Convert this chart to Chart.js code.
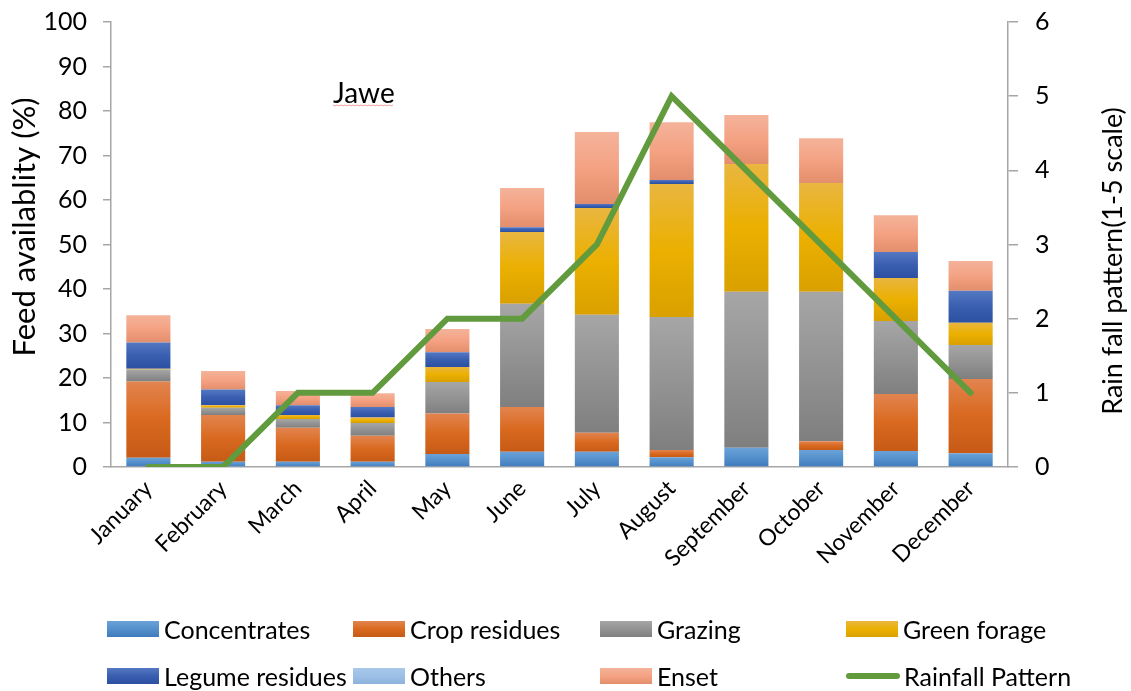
<!DOCTYPE html>
<html>
<head>
<meta charset="utf-8">
<title>Jawe feed availability</title>
<script src="https://cdn.jsdelivr.net/npm/chart.js@4/dist/chart.umd.min.js"></script>
<style>
  html, body { margin: 0; padding: 0; background: #ffffff; }
  #wrap { position: relative; width: 1131px; height: 691px; overflow: hidden; }
  #chart { position: absolute; left: 0; top: 0; }
  .legend-item { position: absolute; display: flex; align-items: center; height: 26px;
    font-family: Lato, "Open Sans", sans-serif; font-size: 25px; color: #000; white-space: nowrap; }
  .legend-item .sw { width: 52px; height: 16px; margin-right: 5px; flex: none; }
  .legend-item .ln { width: 54px; height: 6px; border-radius: 3px; margin-right: 4px; flex: none; }
</style>
</head>
<body>
<div id="wrap">
  <canvas id="chart" width="1131" height="691"></canvas>
  <div id="legend"></div>
</div>
<script>
// Months on the category axis
const months = ['January', 'February', 'March', 'April', 'May', 'June', 'July',
  'August', 'September', 'October', 'November', 'December'];

// Feed sources, % of feed available each month (stacked bars)
const concentrates   = [2.1, 1.2, 1.2, 1.2, 2.9, 3.4, 3.4, 2.2, 4.3, 3.8, 3.6, 3.1];
const cropResidues   = [17.1, 10.5, 7.6, 5.8, 9.1, 10.1, 4.3, 1.6, 0, 2.0, 12.8, 16.7];
const grazing        = [2.7, 1.6, 2.0, 2.9, 7.1, 23.2, 26.5, 29.9, 35.1, 33.6, 16.4, 7.6];
const greenForage    = [0.2, 0.6, 0.9, 1.2, 3.4, 16.1, 24.0, 29.9, 28.7, 24.4, 9.7, 5.0];
const legumeResidues = [5.9, 3.5, 2.2, 2.4, 3.3, 1.1, 0.9, 0.9, 0, 0, 5.8, 7.2];
const others         = [0, 0, 0, 0, 0, 0, 0, 0, 0, 0, 0, 0];
const enset          = [6.1, 4.2, 3.2, 3.1, 5.2, 8.8, 16.2, 13.0, 11.0, 10.1, 8.3, 6.7];

// Rainfall on a 1-5 scale (right axis)
const rainfall = [0, 0, 1, 1, 2, 2, 3, 5, 4, 3, 2, 1];

// Axis tick values
const feedTicks = [0, 10, 20, 30, 40, 50, 60, 70, 80, 90, 100];
const rainTicks = [0, 1, 2, 3, 4, 5, 6];

const FONT = 'Lato, "Open Sans", sans-serif';

// Three-stop vertical shading: light top, base middle, dark bottom
const shades = {
  concentrates:   ['#6aa2d8', '#5590cc', '#3f7bbd'],
  cropResidues:   ['#e2844f', '#d9691f', '#c65a16'],
  grazing:        ['#a6a6a6', '#939393', '#7f7f7f'],
  greenForage:    ['#e9b640', '#ebb000', '#d9a000'],
  legumeResidues: ['#5478c2', '#3a5fb0', '#2b50a2'],
  others:         ['#a9c8ea', '#9dc0e6', '#8cb2dc'],
  enset:          ['#f4b39a', '#f4a283', '#e38e6c']
};

const barSeries = [
  { label: 'Concentrates', data: concentrates, shade: shades.concentrates },
  { label: 'Crop residues', data: cropResidues, shade: shades.cropResidues },
  { label: 'Grazing', data: grazing, shade: shades.grazing },
  { label: 'Green forage', data: greenForage, shade: shades.greenForage },
  { label: 'Legume residues', data: legumeResidues, shade: shades.legumeResidues },
  { label: 'Others', data: others, shade: shades.others },
  { label: 'Enset', data: enset, shade: shades.enset }
];

// Gradient fitted to one stacked segment, computed from the value scale
function segmentFill(ctx, stops) {
  const chart = ctx.chart;
  const y = chart.scales && chart.scales.y;
  if (!chart.chartArea || !y) return stops[1];
  const i = ctx.dataIndex, d = ctx.datasetIndex;
  let base = 0;
  for (let k = 0; k < d; k++) base += barSeries[k].data[i];
  const value = barSeries[d].data[i];
  const top = y.getPixelForValue(base + value);
  const bottom = y.getPixelForValue(base);
  if (!(bottom - top > 0.5)) return stops[1];
  const g = chart.ctx.createLinearGradient(0, top, 0, bottom);
  g.addColorStop(0, stops[0]);
  g.addColorStop(0.5, stops[1]);
  g.addColorStop(1, stops[2]);
  return g;
}

const datasets = barSeries.map(s => ({
  type: 'bar',
  label: s.label,
  data: s.data,
  yAxisID: 'y',
  stack: 'feed',
  order: 1,
  borderWidth: 0,
  barPercentage: 0.59,
  categoryPercentage: 1.0,
  backgroundColor: ctx => segmentFill(ctx, s.shade)
}));

datasets.push({
  type: 'line',
  label: 'Rainfall Pattern',
  data: rainfall,
  yAxisID: 'y1',
  order: 0,
  borderColor: '#629b3e',
  borderWidth: 6,
  borderCapStyle: 'round',
  borderJoinStyle: 'miter',
  pointRadius: 0,
  tension: 0,
  fill: false
});

const AXIS_GRAY = '#a6a6a6';

// Axis titles (both read bottom-to-top) and the site name inside the plot
const annotations = {
  id: 'annotations',
  afterDraw(chart) {
    const c = chart.ctx;
    c.save();
    c.fillStyle = '#000';
    c.textAlign = 'center';
    c.textBaseline = 'middle';

    c.save();
    c.font = '31px ' + FONT;
    c.translate(25, 227);
    c.rotate(-Math.PI / 2);
    c.fillText('Feed availablity (%)', 0, 0);
    c.restore();

    c.save();
    c.font = '27px ' + FONT;
    c.translate(1113, 261);
    c.rotate(-Math.PI / 2);
    c.fillText('Rain fall pattern(1-5 scale)', 0, 0);
    c.restore();

    c.textAlign = 'left';
    c.textBaseline = 'alphabetic';
    c.font = '28px ' + FONT;
    c.fillText('Jawe', 333, 103);
    const w = c.measureText('Jawe').width;
    c.strokeStyle = 'rgba(230, 80, 80, 0.55)';
    c.lineWidth = 1;
    c.beginPath();
    for (let x = 333; x <= 333 + w; x += 2) {
      const yy = 105 + ((x - 333) % 4 === 0 ? 0 : 0.8);
      if (x === 333) c.moveTo(x, yy); else c.lineTo(x, yy);
    }
    c.stroke();
    c.restore();
  }
};

// Vertical axes: fixed box widths, no extra top/bottom reserve for tick text
function fixVertical(width) {
  return scale => {
    scale.width = width;
    scale.paddingTop = 0;
    scale.paddingBottom = 0;
  };
}

new Chart(document.getElementById('chart'), {
  data: { labels: months, datasets },
  options: {
    responsive: false,
    animation: false,
    layout: { padding: { top: 22, left: 0, right: 0, bottom: 0 } },
    plugins: {
      legend: { display: false },
      tooltip: { enabled: false },
      title: { display: false }
    },
    scales: {
      x: {
        stacked: true,
        offset: true,
        grid: { display: false, drawTicks: false },
        border: { display: true, color: AXIS_GRAY, width: 1.5 },
        ticks: {
          color: '#000',
          font: { family: FONT, size: 23 },
          minRotation: 45,
          maxRotation: 45,
          padding: 8,
          autoSkip: false
        },
        afterFit(scale) {
          scale.height = 224;
          scale.paddingLeft = 0;
          scale.paddingRight = 0;
        }
      },
      y: {
        position: 'left',
        stacked: true,
        min: 0,
        max: 100,
        afterBuildTicks(scale) { scale.ticks = feedTicks.map(v => ({ value: v })); },
        grid: { drawOnChartArea: false, drawTicks: true, tickLength: 8, color: AXIS_GRAY, lineWidth: 1.5 },
        border: { display: true, color: AXIS_GRAY, width: 1.5 },
        ticks: { color: '#000', font: { family: FONT, size: 25 }, padding: 16 },
        afterFit: fixVertical(111)
      },
      y1: {
        position: 'right',
        min: 0,
        max: 6,
        afterBuildTicks(scale) { scale.ticks = rainTicks.map(v => ({ value: v })); },
        grid: { drawOnChartArea: false, drawTicks: true, tickLength: 10, color: AXIS_GRAY, lineWidth: 1.5 },
        border: { display: true, color: AXIS_GRAY, width: 1.5 },
        ticks: { color: '#000', font: { family: FONT, size: 25 }, padding: 17 },
        afterFit: fixVertical(123)
      }
    }
  },
  plugins: [annotations]
});

// Legend below the chart, four aligned columns in two rows
const legendCols = [107, 353, 600, 846];
const legendRows = [629, 676];
const legendEntries = barSeries.map(s => ({ label: s.label, shade: s.shade, line: false }));
legendEntries.push({ label: 'Rainfall Pattern', color: '#629b3e', line: true });

const legendEl = document.getElementById('legend');
legendEntries.forEach((e, n) => {
  const item = document.createElement('div');
  item.className = 'legend-item';
  item.style.left = legendCols[n % 4] + 'px';
  item.style.top = (legendRows[Math.floor(n / 4)] - 13) + 'px';
  const mark = document.createElement('span');
  if (e.line) {
    mark.className = 'ln';
    mark.style.background = e.color;
  } else {
    mark.className = 'sw';
    mark.style.background = 'linear-gradient(' + e.shade[0] + ', ' + e.shade[1] + ' 50%, ' + e.shade[2] + ')';
  }
  const txt = document.createElement('span');
  txt.textContent = e.label;
  item.appendChild(mark);
  item.appendChild(txt);
  legendEl.appendChild(item);
});
</script>
</body>
</html>
